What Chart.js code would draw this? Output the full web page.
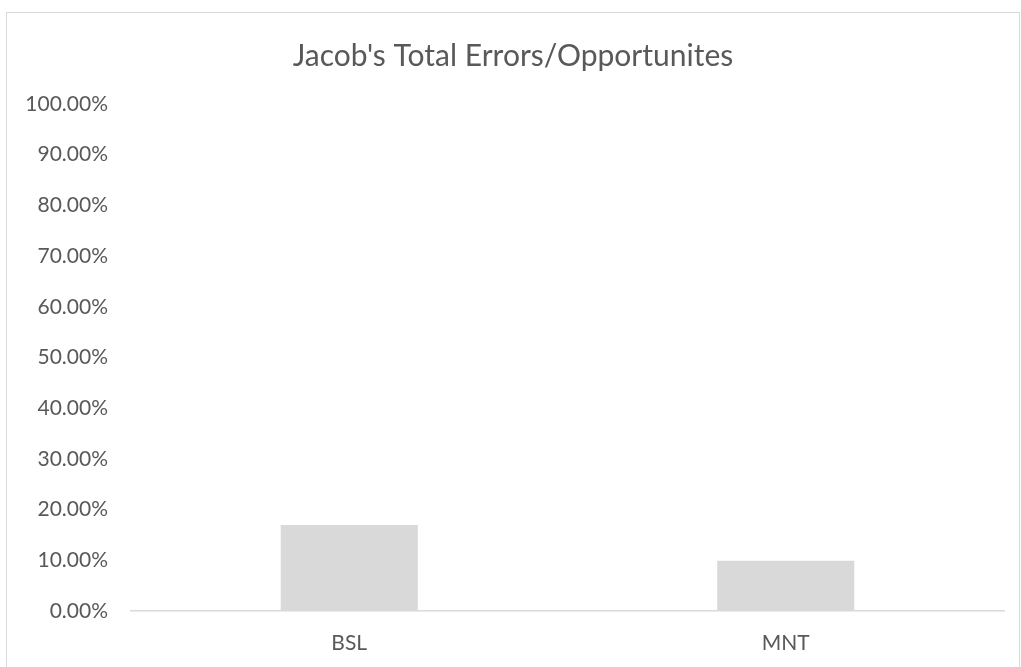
<!DOCTYPE html>
<html>
<head>
<meta charset="utf-8">
<script src="https://cdn.jsdelivr.net/npm/chart.js@4/dist/chart.umd.min.js"></script>
<style>
  body { margin: 0; background: #fff; }
  #wrap { width: 1021px; height: 667px; position: relative; }
</style>
</head>
<body>
<div id="wrap"><canvas id="canvas" width="1021" height="667"></canvas></div>
<script>
// data
var categories = ['BSL', 'MNT'];
var errorRates = [16.95, 9.9];   // percent
var yTicks = [0, 10, 20, 30, 40, 50, 60, 70, 80, 90, 100];

var textColor = '#595959';
var fontName = "Lato, 'Open Sans', sans-serif";

// outer frame like the excel chart border
var framePlugin = {
  id: 'frame',
  beforeDraw: function(chart){
    var ctx = chart.ctx;
    ctx.save();
    ctx.fillStyle = '#fff';
    ctx.fillRect(0, 0, chart.width, chart.height);
    ctx.strokeStyle = '#d9d9d9';
    ctx.lineWidth = 1;
    ctx.strokeRect(6.5, 12.5, 1013, 700);
    ctx.restore();
  }
};

function show_chart(){
  var config = {
    type: 'bar',
    data: {
      labels: categories,
      datasets: [{
        label: 'Total Errors/Opportunites',
        data: errorRates,
        backgroundColor: '#d9d9d9',
        borderWidth: 0,
        barPercentage: 1,
        categoryPercentage: 0.314
      }]
    },
    options: {
      responsive: false,
      animation: false,
      layout: { padding: { top: 0, left: 22, right: 17, bottom: 0 } },
      plugins: {
        legend: { display: false },
        tooltip: { enabled: false },
        title: {
          display: true,
          text: "Jacob's Total Errors/Opportunites",
          color: textColor,
          font: { family: fontName, size: 30, weight: 'normal' },
          padding: { top: 38, bottom: 30 }
        }
      },
      scales: {
        x: {
          afterFit: function(scale){ scale.height = 56; },
          grid: { display: false, drawTicks: false },
          border: { display: true, color: '#d9d9d9', width: 1.5 },
          ticks: { color: textColor, padding: 20, font: { family: fontName, size: 21 } }
        },
        y: {
          min: 0,
          max: 100,
          afterBuildTicks: function(scale){
            scale.ticks = yTicks.map(function(v){ return { value: v }; });
          },
          afterFit: function(scale){ scale.width = 109; },
          grid: { display: false, drawTicks: false },
          border: { display: false },
          ticks: {
            color: textColor,
            padding: 23,
            font: { family: fontName, size: 21 },
            callback: function(v){ return v.toFixed(2) + '%'; }
          }
        }
      }
    },
    plugins: [framePlugin]
  };
  var ctx = document.getElementById('canvas').getContext('2d');
  window.myBar = new Chart(ctx, config);
}

show_chart();
</script>
</body>
</html>
